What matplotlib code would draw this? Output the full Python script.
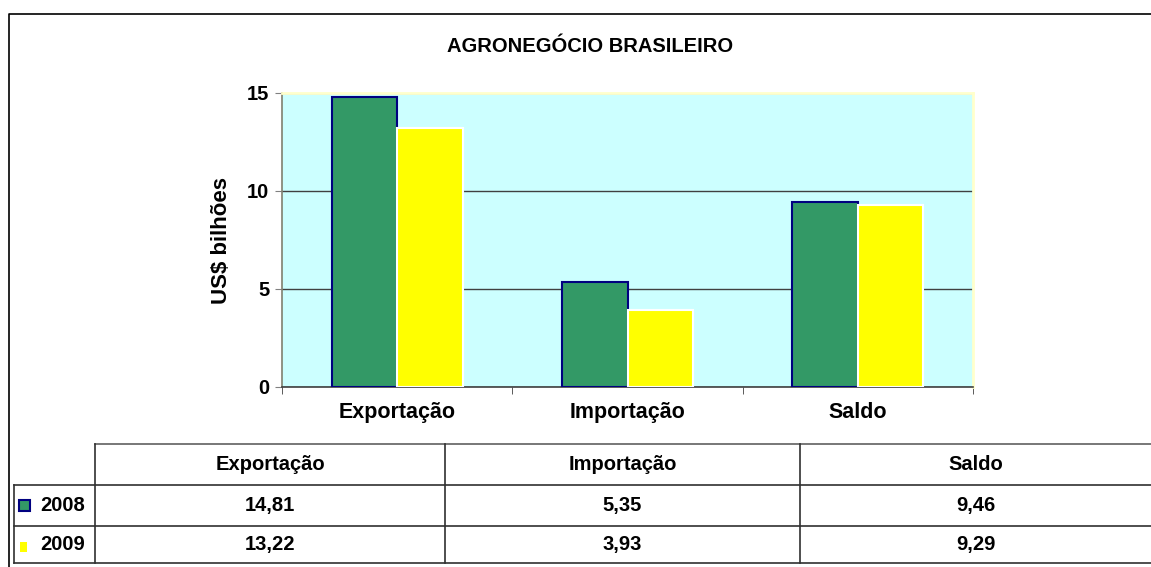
import matplotlib.pyplot as plt
from matplotlib.patches import Rectangle

plt.rcParams['font.family'] = ['Liberation Sans', 'DejaVu Sans']
plt.rcParams['font.weight'] = 'bold'

TITLE = "AGRONEGÓCIO BRASILEIRO"
Y_LABEL = "US$ bilhões"

categories = ["Exportação", "Importação", "Saldo"]
series_names = ["2008", "2009"]
values_2008 = [14.81, 5.35, 9.46]
values_2009 = [13.22, 3.93, 9.29]
y_ticks = [0, 5, 10, 15]

GREEN = "#339966"
YELLOW = "#FFFF00"
NAVY = "#000080"
BG = "#CCFFFF"

W, H = 1151, 567
fig = plt.figure(figsize=(W / 100, H / 100), dpi=100)

# overlay in pixel coordinates for border + table
ov = fig.add_axes([0, 0, 1, 1])
ov.set_xlim(0, W)
ov.set_ylim(H, 0)
ov.axis('off')

# chart area border
ov.plot([9, 9, W + 5], [H + 5, 14, 14], color='black', lw=1.2)

# plot area
left, right, top, bottom = 282, 973, 93, 387
ax = fig.add_axes([left / W, 1 - bottom / H, (right - left) / W, (bottom - top) / H])
ax.set_facecolor(BG)

x = list(range(len(categories)))
bw = 0.285
ax.bar([i - bw / 2 for i in x], values_2008, bw, color=GREEN, edgecolor=NAVY,
       linewidth=1.5, zorder=3)
ax.bar([i + bw / 2 for i in x], values_2009, bw, color=YELLOW, edgecolor='white',
       linewidth=1.5, zorder=3)

ax.set_xlim(-0.5, len(categories) - 0.5)
ax.set_ylim(0, 15)
ax.set_yticks(y_ticks)
ax.set_yticklabels([str(t) for t in y_ticks], fontsize=14.5, fontweight='bold')
ax.set_xticks(x)
ax.set_xticklabels(categories, fontsize=15.5, fontweight='bold')
ax.set_xticks([i - 0.5 for i in range(len(categories) + 1)], minor=True)
ax.tick_params(axis='x', which='major', length=0, pad=11)
ax.tick_params(axis='x', which='minor', length=5, color='#404040', direction='out')
ax.tick_params(axis='y', length=5, color='#808080', pad=4)

ax.yaxis.grid(True, color='#404040', lw=1)
ax.set_axisbelow(True)

ax.spines['top'].set_color('#FFFFCC')
ax.spines['top'].set_linewidth(2)
ax.spines['right'].set_color('#FFFFCC')
ax.spines['right'].set_linewidth(2)
ax.spines['left'].set_color('#808070')
ax.spines['left'].set_linewidth(1.2)
ax.spines['bottom'].set_color('#404040')
ax.spines['bottom'].set_linewidth(1.2)

ax.set_ylabel(Y_LABEL, fontsize=16, fontweight='bold', labelpad=11)

fig.text(590 / W, 1 - 46 / H, TITLE, ha='center', va='center', fontsize=14.5,
         fontweight='bold')

# data table
col_edges = [95, 445, 800, W + 5]
row_edges = [444, 485, 526, 563]
label_left = 14
lc = '#303030'

ov.plot([col_edges[0], col_edges[-1]], [row_edges[0], row_edges[0]], color='#606060', lw=1.2)
for yy in row_edges[1:]:
    ov.plot([label_left, col_edges[-1]], [yy, yy], color=lc, lw=1.2)
ov.plot([label_left, label_left], [row_edges[1], row_edges[-1]], color=lc, lw=1.2)
ov.plot([col_edges[0], col_edges[0]], [row_edges[0], row_edges[-1]], color=lc, lw=1.2)
for xx in col_edges[1:-1]:
    ov.plot([xx, xx], [row_edges[0], row_edges[-1]], color=lc, lw=1.2)

for j, cat in enumerate(categories):
    cx = (col_edges[j] + min(col_edges[j + 1], W)) / 2
    ov.text(cx, (row_edges[0] + row_edges[1]) / 2, cat, ha='center', va='center',
            fontsize=14.5, fontweight='bold')

rows = [values_2008, values_2009]
for r, (name, vals) in enumerate(zip(series_names, rows)):
    cy = (row_edges[r + 1] + row_edges[r + 2]) / 2
    ov.text(40, cy, name, ha='left', va='center', fontsize=14.5, fontweight='bold')
    for j, v in enumerate(vals):
        cx = (col_edges[j] + min(col_edges[j + 1], W)) / 2
        ov.text(cx, cy, f"{v:.2f}".replace('.', ','), ha='center', va='center',
                fontsize=14.5, fontweight='bold')

# legend keys in the table
ov.add_patch(Rectangle((19, 500), 11, 11, facecolor=GREEN, edgecolor=NAVY, lw=1.5))
ov.add_patch(Rectangle((20, 542), 7, 10, facecolor=YELLOW, edgecolor='none'))

fig.savefig('out.png', dpi=100)
